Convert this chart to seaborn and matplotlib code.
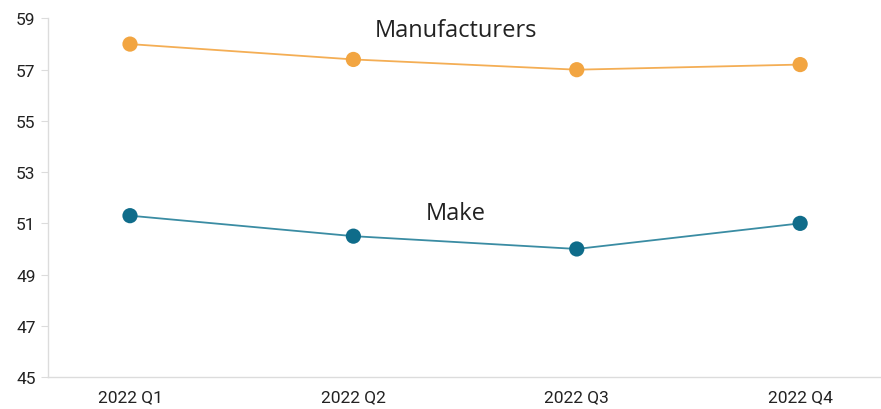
import matplotlib
matplotlib.use("Agg")
import matplotlib.pyplot as plt
import seaborn as sns
import pandas as pd

quarters = ["2022 Q1", "2022 Q2", "2022 Q3", "2022 Q4"]
manufacturers = [58.0, 57.4, 57.0, 57.2]
make = [51.3, 50.5, 50.0, 51.0]
y_ticks = [45, 47, 49, 51, 53, 55, 57, 59]

sns.set_style("white")
plt.rcParams["font.family"] = ["Roboto", "DejaVu Sans"]

df = pd.DataFrame({
    "quarter": quarters * 2,
    "value": manufacturers + make,
    "series": ["Manufacturers"] * 4 + ["Make"] * 4,
})

fig = plt.figure(figsize=(8.81, 4.10), dpi=100)
ax = fig.add_axes([0.0545, 0.078, 0.945, 0.8745])

palette = {"Manufacturers": "#F2A541", "Make": "#0F6C8A"}
line_palette = {"Manufacturers": "#F4AE55", "Make": "#3A8CA3"}
sns.lineplot(data=df, x="quarter", y="value", hue="series", palette=line_palette,
             linewidth=1.3, legend=False, ax=ax, sort=False)
sns.scatterplot(data=df, x="quarter", y="value", hue="series", palette=palette,
                s=120, edgecolor="none", legend=False, ax=ax, zorder=3)

ax.set_xlim(-0.367, 3.36)
ax.set_ylim(45, 59)
ax.set_yticks(y_ticks)
ax.set_xlabel("")
ax.set_ylabel("")

for side in ["top", "right"]:
    ax.spines[side].set_visible(False)
for side in ["left", "bottom"]:
    ax.spines[side].set_color("#dcdcdc")
    ax.spines[side].set_linewidth(1.0)

ax.tick_params(axis="y", length=5, color="#dcdcdc", labelsize=12.5, labelcolor="#222222", pad=4, left=True)
ax.tick_params(axis="x", length=0, labelsize=12.5, labelcolor="#222222", pad=9)

ax.text(1.46, 58.55, "Manufacturers", ha="center", va="center", fontsize=17,
        color="#222222", family=["Open Sans", "DejaVu Sans"])
ax.text(1.46, 51.4, "Make", ha="center", va="center", fontsize=17,
        color="#222222", family=["Open Sans", "DejaVu Sans"])

fig.savefig("out.png", dpi=100)
